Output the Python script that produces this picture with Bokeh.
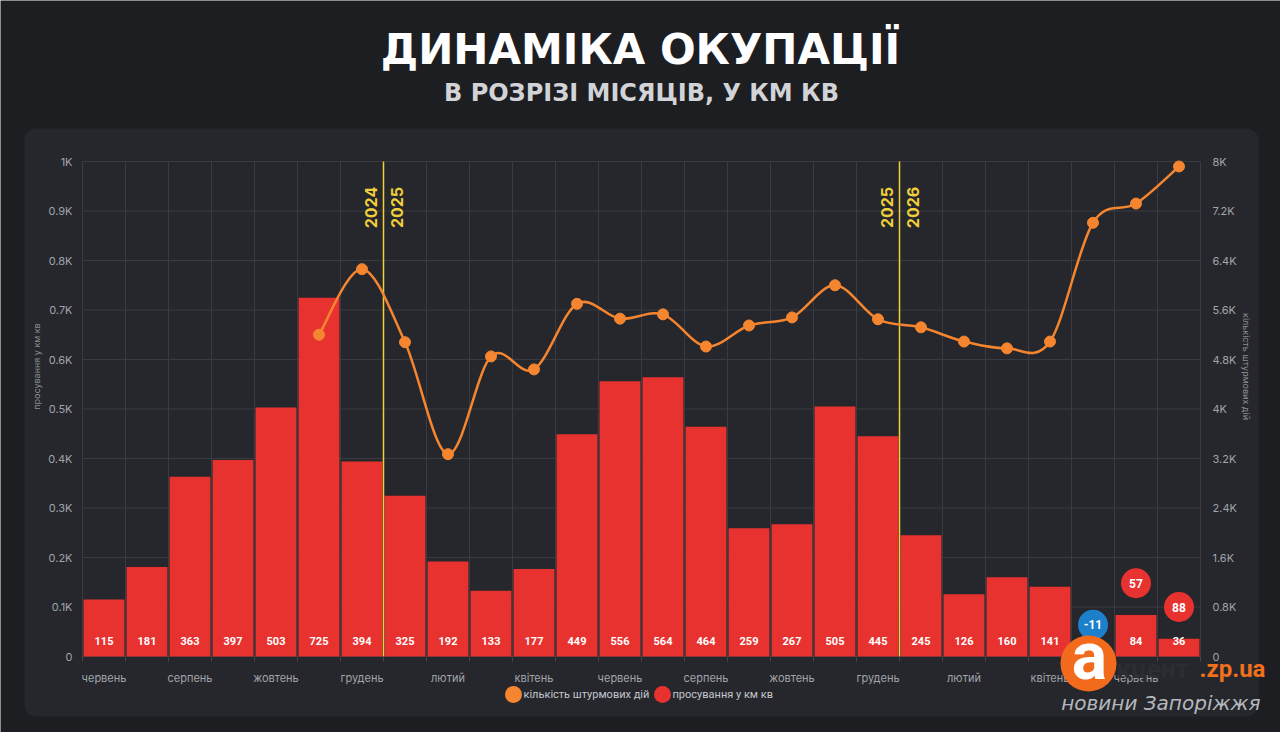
import math
from bokeh.plotting import figure
from bokeh.models import (Range1d, LinearAxis, FixedTicker, ColumnDataSource, BoxAnnotation)
from bokeh.core.properties import value
from bokeh.embed import file_html
from bokeh.resources import INLINE

# ---------------- data ----------------
months = ["червень", "липень", "серпень", "вересень", "жовтень", "листопад", "грудень",
          "січень", "лютий", "березень", "квітень", "травень", "червень", "липень",
          "серпень", "вересень", "жовтень", "листопад", "грудень",
          "січень", "лютий", "березень", "квітень", "травень", "червень", "липень"]
years = [2024] * 7 + [2025] * 12 + [2026] * 7
advance = [115, 181, 363, 397, 503, 725, 394, 325, 192, 133, 177, 449, 556, 564, 464,
           259, 267, 505, 445, 245, 126, 160, 141, -11, 84, 36]
assaults = [None, None, None, None, None, 5200, 6260, 5080, 3270, 4850, 4640, 5700,
            5460, 5530, 5010, 5350, 5480, 6000, 5450, 5320, 5090, 4980, 5090, 7010,
            7320, 7920]
bubble_idx = [23, 24, 25]
bubble_vals = [-11, 57, 88]
left_ticks = [0, 100, 200, 300, 400, 500, 600, 700, 800, 900, 1000]
left_tick_labels = ["0", "0.1K", "0.2K", "0.3K", "0.4K", "0.5K", "0.6K", "0.7K",
                    "0.8K", "0.9K", "1K"]
right_ticks = [0, 800, 1600, 2400, 3200, 4000, 4800, 5600, 6400, 7200, 8000]
right_tick_labels = ["0", "0.8K", "1.6K", "2.4K", "3.2K", "4K", "4.8K", "5.6K",
                     "6.4K", "7.2K", "8K"]
title = "ДИНАМІКА ОКУПАЦІЇ"
subtitle = "В РОЗРІЗІ МІСЯЦІВ, У КМ КВ"
left_label = "просування у км кв"
right_label = "кількість штурмових дій"

# ---------------- style ----------------
PAGE = "#1d1e22"
PANEL = "#25272c"
GRID = "#393b41"
RED = "#e8322f"
ORANGE = "#f5852f"
YELLOW = "#f0cf3a"
BLUE = "#1d80cc"
TICK = "#a2a4aa"
FONT = "Inter"

W, H = 1280, 732
# plot-area placement on the canvas (pixels)
FL, FR, FT, FB = 82, 1200, 161, 656
N = len(months)
PX_X = (FR - FL) / N            # pixels per category
Y_MAX = left_ticks[-1]
PX_Y = (FB - FT) / Y_MAX        # pixels per km2
RATIO = right_ticks[-1] / Y_MAX


def xd(X):
    return -0.5 + (X - FL) / PX_X


def yd(Y):
    return (FB - Y) / PX_Y


p = figure(width=W, height=H, output_backend="svg", toolbar_location=None,
           x_range=Range1d(xd(0), xd(W)), y_range=Range1d(yd(H), yd(0)),
           min_border=0)
p.background_fill_color = PAGE
p.border_fill_color = PAGE
p.outline_line_color = None
p.extra_y_ranges = {"right": Range1d(yd(H) * RATIO, yd(0) * RATIO)}
p.xgrid.visible = False
p.ygrid.visible = False

# panel
p.add_layout(BoxAnnotation(left=xd(24), right=xd(1258), top=yd(128), bottom=yd(716),
                           fill_color=PANEL, fill_alpha=1, line_color=None,
                           border_radius=12, level="image"))

# grid lines limited to the plot area
x_lo, x_hi = -0.5, N - 0.5
p.segment(x0=[x_lo] * len(left_ticks), x1=[x_hi] * len(left_ticks), y0=left_ticks,
          y1=left_ticks, line_color=GRID, line_width=1)
bounds = [i - 0.5 for i in range(N + 1)]
p.segment(x0=bounds, x1=bounds, y0=[0] * len(bounds), y1=[Y_MAX] * len(bounds),
          line_color=GRID, line_width=1)

# axes at fixed locations
xa = p.xaxis[0]
xa.fixed_location = 0
xa.ticker = FixedTicker(ticks=list(range(0, N, 2)), minor_ticks=bounds)
xa.major_label_overrides = {i: months[i] for i in range(0, N, 2)}
xa.major_tick_line_color = None
xa.major_tick_out = 0
xa.major_tick_in = 0
xa.minor_tick_line_color = "#44464c"
xa.minor_tick_in = 0
xa.minor_tick_out = 5
xa.axis_line_color = None
xa.major_label_standoff = 9
xa.major_label_text_color = TICK
xa.major_label_text_font = FONT
xa.major_label_text_font_size = "11px"

ya = p.yaxis[0]
ya.fixed_location = x_lo
ya.ticker = FixedTicker(ticks=left_ticks)
ya.major_label_overrides = {t: l for t, l in zip(left_ticks, left_tick_labels)}
ya.major_tick_line_color = None
ya.major_tick_out = 0
ya.major_tick_in = 0
ya.minor_tick_line_color = None
ya.axis_line_color = None
ya.major_label_standoff = 10
ya.major_label_text_color = TICK
ya.major_label_text_font = FONT
ya.major_label_text_font_size = "11px"
ya.axis_label = left_label
ya.axis_label_text_font = FONT
ya.axis_label_text_font_size = "9px"
ya.axis_label_text_font_style = "normal"
ya.axis_label_text_color = "#8c8e94"
ya.axis_label_standoff = 3

ra = LinearAxis(y_range_name="right", ticker=FixedTicker(ticks=right_ticks),
                fixed_location=x_hi)
ra.major_label_overrides = {t: l for t, l in zip(right_ticks, right_tick_labels)}
ra.major_tick_line_color = None
ra.major_tick_out = 0
ra.major_tick_in = 0
ra.minor_tick_line_color = None
ra.axis_line_color = None
ra.major_label_standoff = 12
ra.major_label_text_color = TICK
ra.major_label_text_font = FONT
ra.major_label_text_font_size = "11px"
ra.axis_label = right_label
ra.axis_label_text_font = FONT
ra.axis_label_text_font_size = "9px"
ra.axis_label_text_font_style = "normal"
ra.axis_label_text_color = "#8c8e94"
ra.axis_label_standoff = 1
p.add_layout(ra, "right")

# bars
idx = list(range(N))
p.vbar(x=idx, top=[max(v, 0) for v in advance], bottom=0, width=0.95,
       fill_color=RED, line_color=None)
lab_src = ColumnDataSource(dict(x=[i for i in idx if advance[i] > 0],
                                t=[str(advance[i]) for i in idx if advance[i] > 0]))
p.text(x="x", y=0, text="t", source=lab_src, y_offset=-16, text_align="center",
       text_baseline="middle", text_color="white", text_font=value("Roboto"),
       text_font_style="bold", text_font_size="11px")

# year separators
for i in range(1, N):
    if years[i] != years[i - 1]:
        pos = i - 0.5
        p.segment(x0=[pos], x1=[pos], y0=[0], y1=[Y_MAX], line_color=YELLOW,
                  line_width=1.5)
        for txt, off in ((str(years[i - 1]), -13), (str(years[i]), 13)):
            p.text(x=[pos], y=[yd(207)], text=[txt], x_offset=off, angle=math.pi / 2,
                   text_align="center", text_baseline="middle", text_color=YELLOW,
                   text_font=value(FONT), text_font_style="bold",
                   text_font_size="16px")

# smooth assault line (cubic Bezier segments through the data points)
pts = [(i, v) for i, v in enumerate(assaults) if v is not None]
bx0, by0, bx1, by1, c0x, c0y, c1x, c1y = ([] for _ in range(8))
for k in range(len(pts) - 1):
    p0 = pts[max(k - 1, 0)]
    p1 = pts[k]
    p2 = pts[k + 1]
    p3 = pts[min(k + 2, len(pts) - 1)]
    bx0.append(p1[0]); by0.append(p1[1]); bx1.append(p2[0]); by1.append(p2[1])
    c0x.append(p1[0] + (p2[0] - p0[0]) / 6); c0y.append(p1[1] + (p2[1] - p0[1]) / 6)
    c1x.append(p2[0] - (p3[0] - p1[0]) / 6); c1y.append(p2[1] - (p3[1] - p1[1]) / 6)
p.bezier(x0=bx0, y0=by0, x1=bx1, y1=by1, cx0=c0x, cy0=c0y, cx1=c1x, cy1=c1y,
         line_color=ORANGE, line_width=2.5, y_range_name="right")
p.scatter(x=[q[0] for q in pts], y=[q[1] for q in pts], size=11, fill_color=ORANGE,
          line_color=ORANGE, y_range_name="right")

# bubbles
bub = ColumnDataSource(dict(
    x=bubble_idx,
    y=[max(advance[i], 0) + 64 for i in bubble_idx],
    t=[str(v) for v in bubble_vals],
    c=[BLUE if v < 0 else RED for v in bubble_vals]))
p.scatter(x="x", y="y", source=bub, size=30, fill_color="c", line_color=None)
p.text(x="x", y="y", text="t", source=bub, text_align="center", text_baseline="middle",
       text_color="white", text_font=value("Roboto"), text_font_style="bold",
       text_font_size="12px")


def lab(text, X, Y, size, color, style="bold", align="center", font="Roboto",
        level="glyph"):
    r = p.text(x=[xd(X)], y=[yd(Y)], text=[text], text_align=align,
               text_baseline="middle", text_color=color, text_font=value(font),
               text_font_style=style, text_font_size=f"{size}px")
    r.level = level


def dot(X, Y, d, color, level="glyph"):
    r = p.scatter(x=[xd(X)], y=[yd(Y)], size=d, fill_color=color, line_color=None)
    r.level = level


# titles
lab(title, 640, 49, 42, "white", font="DejaVu Sans")
lab(subtitle, 641, 92, 24, "#d2d3d7", font="DejaVu Sans")

# legend
dot(513, 694, 17, ORANGE)
lab(right_label, 523, 694, 11, "#c4c6cc", style="normal", align="left", font="Roboto")
dot(662, 694, 17, RED)
lab(left_label, 672, 694, 11, "#c4c6cc", style="normal", align="left", font="Roboto")

# source logo
dot(1088, 663, 56, "#f26b1d", level="overlay")
lab("а", 1089, 656, 66, "white", level="overlay")
lab("кцент", 1116, 668, 26, "#2c2d32", align="left", level="overlay")
lab(".zp.ua", 1199, 668, 24, "#f0701e", align="left", level="overlay")
lab("новини Запоріжжя", 1260, 702, 20, "#b5b7bd", style="italic", align="right",
    font="DejaVu Sans", level="overlay")

open("out.html", "w").write(file_html(p, INLINE))
